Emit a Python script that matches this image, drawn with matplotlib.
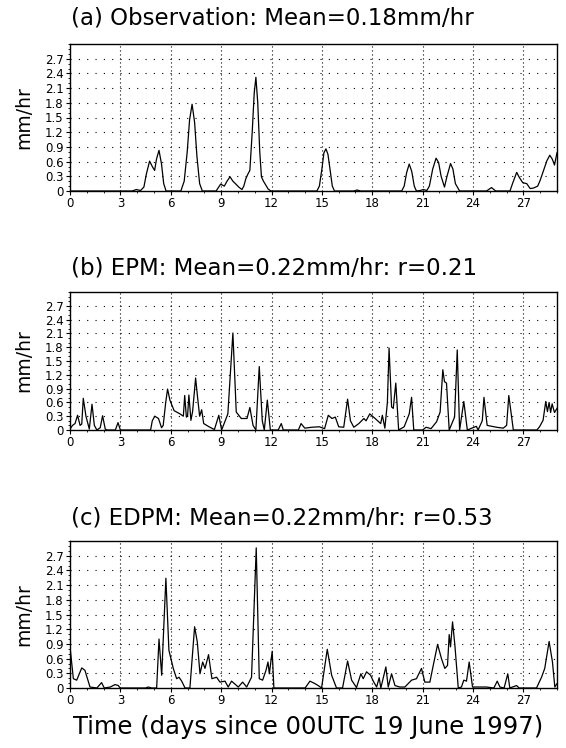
import matplotlib
matplotlib.use('Agg')
import matplotlib.pyplot as plt
from matplotlib.ticker import MultipleLocator
import numpy as np

# (a) observation: time (days) and rain rate (mm/hr)
obs_t = [0, 3.7, 3.95, 4.2, 4.4, 4.55, 4.74, 4.9, 5.04, 5.15, 5.3, 5.45, 5.58, 5.72,
         6.6, 6.8, 6.98, 7.12, 7.27, 7.42, 7.56, 7.72, 7.88,
         8.7, 8.97, 9.19, 9.35, 9.53, 9.7, 9.88, 10.05, 10.24, 10.35, 10.47, 10.6, 10.71,
         10.85, 10.97, 11.07, 11.18, 11.3, 11.4, 11.52, 11.66, 11.8, 11.96,
         14.7, 14.85, 15.0, 15.12, 15.24, 15.36, 15.5, 15.62, 15.75,
         16.9, 17.1, 17.3, 19.75, 19.9, 20.05, 20.2, 20.35, 20.5, 20.63,
         20.85, 21.05, 21.25, 21.4, 21.6, 21.8, 21.95, 22.1, 22.3, 22.45, 22.66, 22.8, 22.95, 23.2,
         24.8, 25.1, 25.35, 26.2, 26.35, 26.6, 26.75, 26.96, 27.2, 27.4, 27.6, 27.85,
         28.0, 28.2, 28.4, 28.57, 28.72, 28.85, 29.0]
obs_v = [0, 0, 0.03, 0.01, 0.08, 0.35, 0.61, 0.5, 0.42, 0.65, 0.83, 0.55, 0.15, 0,
         0, 0.2, 0.8, 1.45, 1.77, 1.4, 0.7, 0.15, 0,
         0, 0.14, 0.1, 0.2, 0.29, 0.2, 0.14, 0.08, 0.03, 0.1, 0.25, 0.35, 0.42,
         1.2, 2.0, 2.32, 1.8, 0.8, 0.29, 0.2, 0.12, 0.04, 0,
         0, 0.1, 0.45, 0.78, 0.86, 0.75, 0.4, 0.1, 0,
         0, 0.02, 0, 0, 0.1, 0.38, 0.55, 0.4, 0.1, 0,
         0.01, 0.03, 0.01, 0.1, 0.45, 0.67, 0.58, 0.3, 0.08, 0.3, 0.56, 0.45, 0.15, 0,
         0, 0.07, 0, 0, 0.15, 0.38, 0.28, 0.17, 0.15, 0.05, 0.06, 0.1,
         0.22, 0.42, 0.62, 0.73, 0.65, 0.53, 0.78]

# (b) EPM
epm_t = [0.0, 0.15, 0.3, 0.45, 0.6, 0.7, 0.79, 0.95, 1.15, 1.31, 1.45, 1.6, 1.8, 1.94, 2.1, 2.2,
         2.7, 2.86, 3.0, 4.8, 4.9, 5.05, 5.27, 5.45, 5.55, 5.7, 5.81, 5.95, 6.2, 6.55, 6.75,
         6.83, 6.93, 7.0, 7.08, 7.2, 7.3, 7.48, 7.6, 7.72, 7.84, 7.96, 8.28, 8.6, 8.86, 9.03,
         9.4, 9.7, 9.9, 10.2, 10.54, 10.71, 10.9, 11.07, 11.27, 11.45, 11.57, 11.75, 11.93,
         12.4, 12.58, 12.7, 13.6, 13.76, 13.98, 14.4, 14.84, 15.16, 15.38, 15.6, 15.8, 16.0,
         16.3, 16.53, 16.7, 16.9, 17.2, 17.5, 17.63, 17.85, 18.17, 18.5, 18.6, 18.75, 18.9,
         19.0, 19.15, 19.25, 19.4, 19.57, 19.9, 20.2, 20.34, 20.47, 21.0, 21.2, 21.5, 21.83,
         22.04, 22.2, 22.3, 22.42, 22.58, 22.9, 23.06, 23.2, 23.45, 23.66, 24.2, 24.3, 24.55,
         24.65, 24.84, 25.4, 25.8, 26.0, 26.13, 26.4, 27.8, 27.96, 28.17, 28.33, 28.43, 28.53,
         28.62, 28.71, 28.85, 29.0]
epm_v = [0.02, 0.1, 0.14, 0.32, 0.1, 0.13, 0.69, 0.3, 0.02, 0.56, 0.1, 0, 0.05, 0.31, 0.02, 0,
         0, 0.16, 0, 0, 0.2, 0.3, 0.25, 0.05, 0.1, 0.6, 0.89, 0.65, 0.42, 0.35, 0.3,
         0.75, 0.28, 0.3, 0.76, 0.21, 0.4, 1.13, 0.7, 0.3, 0.44, 0.14, 0.07, 0.01, 0.32, 0.0,
         0.35, 2.11, 0.39, 0.25, 0.25, 0.49, 0.1, 0, 1.38, 0.2, 0, 0.65, 0,
         0, 0.14, 0, 0, 0.14, 0.04, 0.06, 0.07, 0.03, 0.32, 0.25, 0.28, 0.07,
         0.06, 0.67, 0.2, 0.06, 0.14, 0.25, 0.2, 0.35, 0.25, 0.14, 0.32, 0.04, 0.6,
         1.78, 0.5, 0.47, 1.02, 0, 0.07, 0.35, 0.71, 0, 0, 0.06, 0.03, 0.18,
         0.39, 1.31, 1.05, 1.02, 0, 0.28, 1.74, 0, 0.62, 0, 0.08, 0, 0.2,
         0.71, 0.1, 0.06, 0.04, 0.1, 0.75, 0, 0, 0.07, 0.21, 0.62, 0.4, 0.6,
         0.38, 0.57, 0.38, 0.47]

# (c) EDPM
edpm_t = [0.0, 0.2, 0.4, 0.7, 0.89, 1.19, 1.6, 1.88, 2.04, 2.4, 2.68, 2.88, 2.98,
          4.5, 4.66, 4.86, 5.16, 5.3, 5.46, 5.71, 5.89, 6.15, 6.35, 6.49, 6.65, 6.85,
          7.14, 7.42, 7.58, 7.74, 7.9, 8.04, 8.25, 8.45, 8.73, 8.93, 9.23, 9.42, 9.62,
          10.02, 10.28, 10.52, 10.81, 11.09, 11.27, 11.47, 11.67, 11.79, 11.87, 12.04, 12.14,
          14.0, 14.29, 14.58, 14.78, 14.98, 15.32, 15.58, 15.87, 16.23, 16.53, 16.77, 17.06,
          17.32, 17.46, 17.66, 17.9, 18.06, 18.26, 18.41, 18.51, 18.81, 18.95, 19.15, 19.35,
          19.64, 19.94, 20.34, 20.63, 20.93, 21.13, 21.43, 21.63, 21.89, 22.12, 22.32, 22.48,
          22.58, 22.66, 22.78, 22.92, 23.12, 23.31, 23.45, 23.61, 23.77, 23.97, 24.4, 24.8,
          25.24, 25.44, 25.6, 25.85, 26.07, 26.19, 26.59, 26.75, 27.78, 28.08, 28.27, 28.53,
          28.73, 28.87, 29.0]
edpm_v = [0.84, 0.19, 0.16, 0.41, 0.36, 0.02, 0, 0.11, 0, 0.02, 0.07, 0.05, 0,
          0, 0.02, 0, 0, 1.0, 0.26, 2.24, 0.77, 0.4, 0.19, 0.22, 0.14, 0,
          0, 1.25, 0.94, 0.29, 0.53, 0.4, 0.68, 0.19, 0.22, 0.12, 0.14, 0.02, 0.14,
          0.02, 0.12, 0.02, 0.22, 2.86, 0.19, 0.16, 0.36, 0.53, 0.29, 0.75, 0,
          0, 0.14, 0.09, 0.05, 0, 0.79, 0.26, 0, 0, 0.55, 0.16, 0.01,
          0.29, 0.19, 0.33, 0.26, 0.14, 0.02, 0.21, 0, 0.43, 0.02, 0.29, 0.05,
          0.02, 0.02, 0.16, 0.19, 0.4, 0.12, 0.12, 0.46, 0.89, 0.6, 0.4, 0.46,
          1.09, 0.84, 1.35, 0.87, 0, 0.02, 0.16, 0.14, 0.53, 0.02, 0.02, 0.02,
          0, 0.14, 0.02, 0, 0.29, 0, 0.05, 0, 0, 0.22, 0.4, 0.95,
          0.53, 0.02, 0.09]

titles = ['(a) Observation: Mean=0.18mm/hr',
          '(b) EPM: Mean=0.22mm/hr: r=0.21',
          '(c) EDPM: Mean=0.22mm/hr: r=0.53']
series = [(obs_t, obs_v), (epm_t, epm_v), (edpm_t, edpm_v)]

yticks = np.arange(0, 2.71, 0.3)
ytick_labels = ['0'] + ['%.1f' % v for v in yticks[1:]]
xticks = np.arange(0, 28, 3)

fig = plt.figure(figsize=(5.66, 7.48), dpi=100)
W, H = 566.0, 748.0
# axes boxes in pixels: (top, bottom)
boxes = [(44, 191), (292, 430), (541, 688)]
title_y = [18, 268, 518]
title_x = [272, 274, 282]
left, right = 70, 557

for i, (top, bot) in enumerate(boxes):
    ax = fig.add_axes([left / W, 1 - bot / H, (right - left) / W, (bot - top) / H])
    t, v = series[i]
    ax.plot(t, v, color='black', lw=0.9)
    ax.set_xlim(0, 29)
    ax.set_ylim(0, 3.0)
    ax.set_yticks(yticks)
    ax.set_yticklabels(ytick_labels)
    ax.set_xticks(xticks)
    ax.xaxis.set_minor_locator(MultipleLocator(1))
    ax.yaxis.set_minor_locator(MultipleLocator(0.1))
    ax.tick_params(which='major', direction='out', length=3, width=0.8, labelsize=8.5, pad=1.5)
    ax.tick_params(which='minor', direction='out', length=1.5, width=0.6)
    for y in yticks[1:]:
        ax.axhline(y, color='black', lw=0.8, ls=(0, (1, 6.5)))
    for x in xticks[1:]:
        ax.axvline(x, color='black', lw=0.8, ls=(0, (1, 2.6)))
    for s in ax.spines.values():
        s.set_linewidth(1.0)
    fig.text(title_x[i] / W, 1 - title_y[i] / H, titles[i], fontsize=16.5,
             va='center', ha='center')
    fig.text(24 / W, 1 - (top + bot) / 2 / H, 'mm/hr', fontsize=13.5, rotation=90,
             va='center', ha='center')

fig.text(308 / W, 1 - 727 / H, 'Time (days since 00UTC 19 June 1997)', fontsize=17.5,
         va='center', ha='center')

fig.savefig('out.png', dpi=100)
